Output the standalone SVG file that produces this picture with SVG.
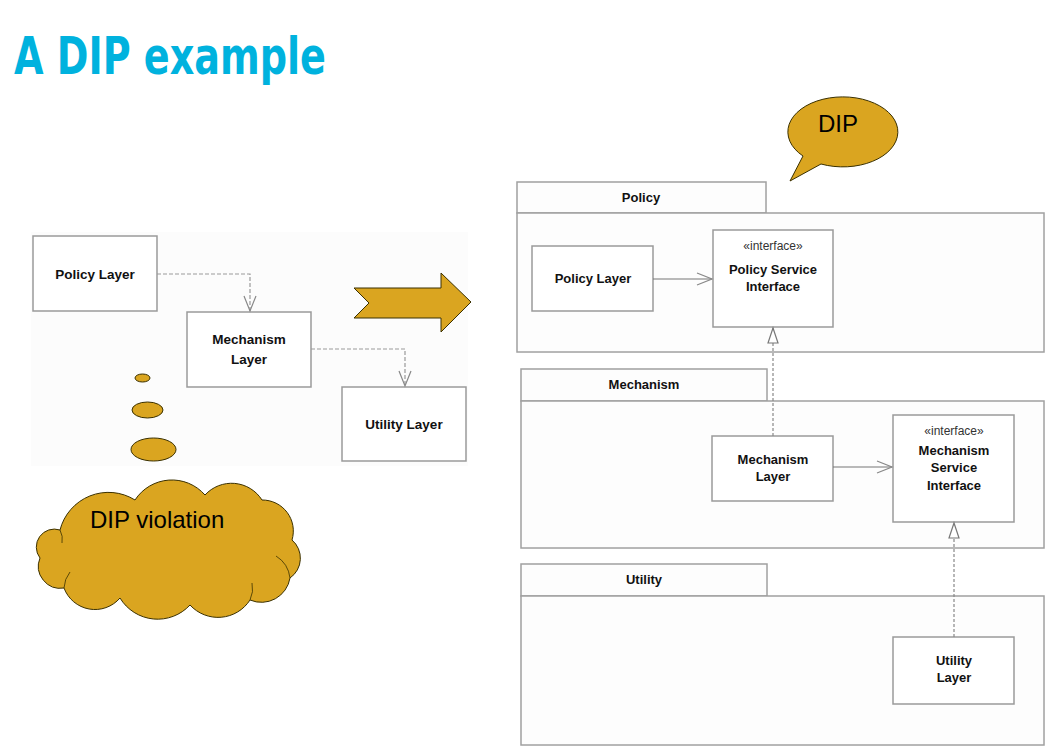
<svg xmlns="http://www.w3.org/2000/svg" width="1053" height="754" viewBox="0 0 1053 754">
<defs>
<style>
.box{fill:#ffffff;stroke:#9a9a9a;stroke-width:1.5}
.pkg{fill:#fdfdfd;stroke:#a0a0a0;stroke-width:1.5}
.lbl{font-family:"Liberation Sans",Arial,sans-serif;font-weight:bold;font-size:13px;fill:#111;text-anchor:middle}
.lblL{font-family:"Liberation Sans",Arial,sans-serif;font-weight:bold;font-size:13.5px;fill:#111;text-anchor:middle}
.ster{font-family:"Liberation Sans",Arial,sans-serif;font-size:12px;fill:#333;text-anchor:middle}
.gold{fill:#DAA520;stroke:#3a3000;stroke-width:1}
.big{font-family:"Liberation Sans",Arial,sans-serif;font-size:24px;fill:#000}
.dash{fill:none;stroke:#999;stroke-width:1.2;stroke-dasharray:4,2}
.solid{fill:none;stroke:#777;stroke-width:1.2}
.real{fill:none;stroke:#888;stroke-width:1.2;stroke-dasharray:3,2}
</style>
<marker id="open" markerUnits="userSpaceOnUse" markerWidth="18" markerHeight="14" refX="16" refY="7" orient="auto">
<path d="M1,1 L16,7 L1,13" fill="none" stroke="#888" stroke-width="1.2"/>
</marker>
<marker id="tri" markerUnits="userSpaceOnUse" markerWidth="18" markerHeight="14" refX="16" refY="6" orient="auto">
<path d="M1,1 L16,6 L1,11 Z" fill="#fff" stroke="#777" stroke-width="1.2"/>
</marker>
</defs>
<rect width="1053" height="754" fill="#ffffff"/>
<text x="14" y="74" font-family="'DejaVu Sans Condensed','DejaVu Sans',sans-serif" font-weight="bold" font-size="52" fill="#00B2DE" textLength="312" lengthAdjust="spacingAndGlyphs">A DIP example</text>

<rect x="31" y="232" width="437" height="234" fill="#fcfcfc"/>

<g id="left-policy-layer">
<rect class="box" x="33" y="236" width="124" height="75"/>
<text class="lblL" x="95" y="279">Policy Layer</text>
</g>
<g id="left-mechanism-layer">
<rect class="box" x="187" y="312" width="124" height="75"/>
<text class="lblL" x="249" y="344">Mechanism</text>
<text class="lblL" x="249" y="364">Layer</text>
</g>
<g id="left-utility-layer">
<rect class="box" x="342" y="387" width="124" height="74"/>
<text class="lblL" x="404" y="429">Utility Layer</text>
</g>

<g id="thought-bubbles">
<ellipse class="gold" cx="142.5" cy="378" rx="7.5" ry="4"/>
<ellipse class="gold" cx="147.5" cy="410" rx="15.5" ry="8"/>
<ellipse class="gold" cx="153.5" cy="449.5" rx="22.5" ry="11.5"/>
</g>

<g id="violation-cloud">
<path class="gold" d="M60,530 A50,50 0 0 1 135,500 A44,44 0 0 1 205,495 A36,36 0 0 1 262,500 A31,31 0 0 1 292,540 A24,24 0 0 1 290,578 A29,29 0 0 1 250,600 A38,38 0 0 1 190,605 A44,44 0 0 1 120,598 A33,33 0 0 1 64,588 A22,22 0 0 1 40,558 A18,18 0 0 1 60,530 Z"/>
<path d="M64,588 A28,28 0 0 1 70,572" fill="none" stroke="#3a3000" stroke-width="0.8"/>
<path d="M250,600 A26,26 0 0 0 252,583" fill="none" stroke="#3a3000" stroke-width="0.8"/>
<path d="M290,578 A30,30 0 0 0 276,556" fill="none" stroke="#3a3000" stroke-width="0.8"/>
<path d="M60,530 A20,20 0 0 1 62,543" fill="none" stroke="#3a3000" stroke-width="0.8"/>
<text class="big" x="90" y="528">DIP violation</text>
</g>

<g id="transform-arrow">
<polygon class="gold" points="354,288 441,288 441,273 471,302 441,332 441,318 354,318 369,303"/>
</g>

<g id="dip-bubble">
<path class="gold" d="M803,156 A55,35 0 1 1 821,164 L790,181 Z"/>
<text class="big" x="838" y="132" text-anchor="middle" font-size="25">DIP</text>
</g>

<g id="policy-package">
<rect class="pkg" x="517" y="182" width="249" height="31"/>
<rect class="pkg" x="517" y="213" width="527" height="139"/>
<text class="lbl" x="641" y="202">Policy</text>
</g>
<g id="policy-layer">
<rect class="box" x="532" y="246" width="121" height="65"/>
<text class="lbl" x="593" y="283">Policy Layer</text>
</g>
<g id="policy-service-interface">
<rect class="box" x="713" y="230" width="120" height="97"/>
<text class="ster" x="773" y="250">«interface»</text>
<text class="lbl" x="773" y="274">Policy Service</text>
<text class="lbl" x="773" y="291">Interface</text>
</g>

<g id="mechanism-package">
<rect class="pkg" x="521" y="369" width="246" height="32"/>
<rect class="pkg" x="521" y="401" width="523" height="147"/>
<text class="lbl" x="644" y="389">Mechanism</text>
</g>
<g id="mechanism-layer">
<rect class="box" x="712" y="436" width="121" height="65"/>
<text class="lbl" x="773" y="464">Mechanism</text>
<text class="lbl" x="773" y="481">Layer</text>
</g>
<g id="mechanism-service-interface">
<rect class="box" x="893" y="415" width="121" height="107"/>
<text class="ster" x="954" y="435">«interface»</text>
<text class="lbl" x="954" y="455">Mechanism</text>
<text class="lbl" x="954" y="472">Service</text>
<text class="lbl" x="954" y="490">Interface</text>
</g>

<g id="utility-package">
<rect class="pkg" x="521" y="564" width="246" height="32"/>
<rect class="pkg" x="521" y="596" width="523" height="149"/>
<text class="lbl" x="644" y="584">Utility</text>
</g>
<g id="utility-layer">
<rect class="box" x="893" y="637" width="121" height="67"/>
<text class="lbl" x="954" y="665">Utility</text>
<text class="lbl" x="954" y="682">Layer</text>
</g>

<g id="connectors">
<path class="dash" d="M157,274 H250 V311" marker-end="url(#open)"/>
<path class="dash" d="M311,349 H405 V386" marker-end="url(#open)"/>
<path class="solid" d="M653,279 H712" marker-end="url(#open)"/>
<path class="solid" d="M833,467 H892" marker-end="url(#open)"/>
<path class="real" d="M773,436 V328" marker-end="url(#tri)"/>
<path class="real" d="M954,637 V523" marker-end="url(#tri)"/>
</g>
</svg>
